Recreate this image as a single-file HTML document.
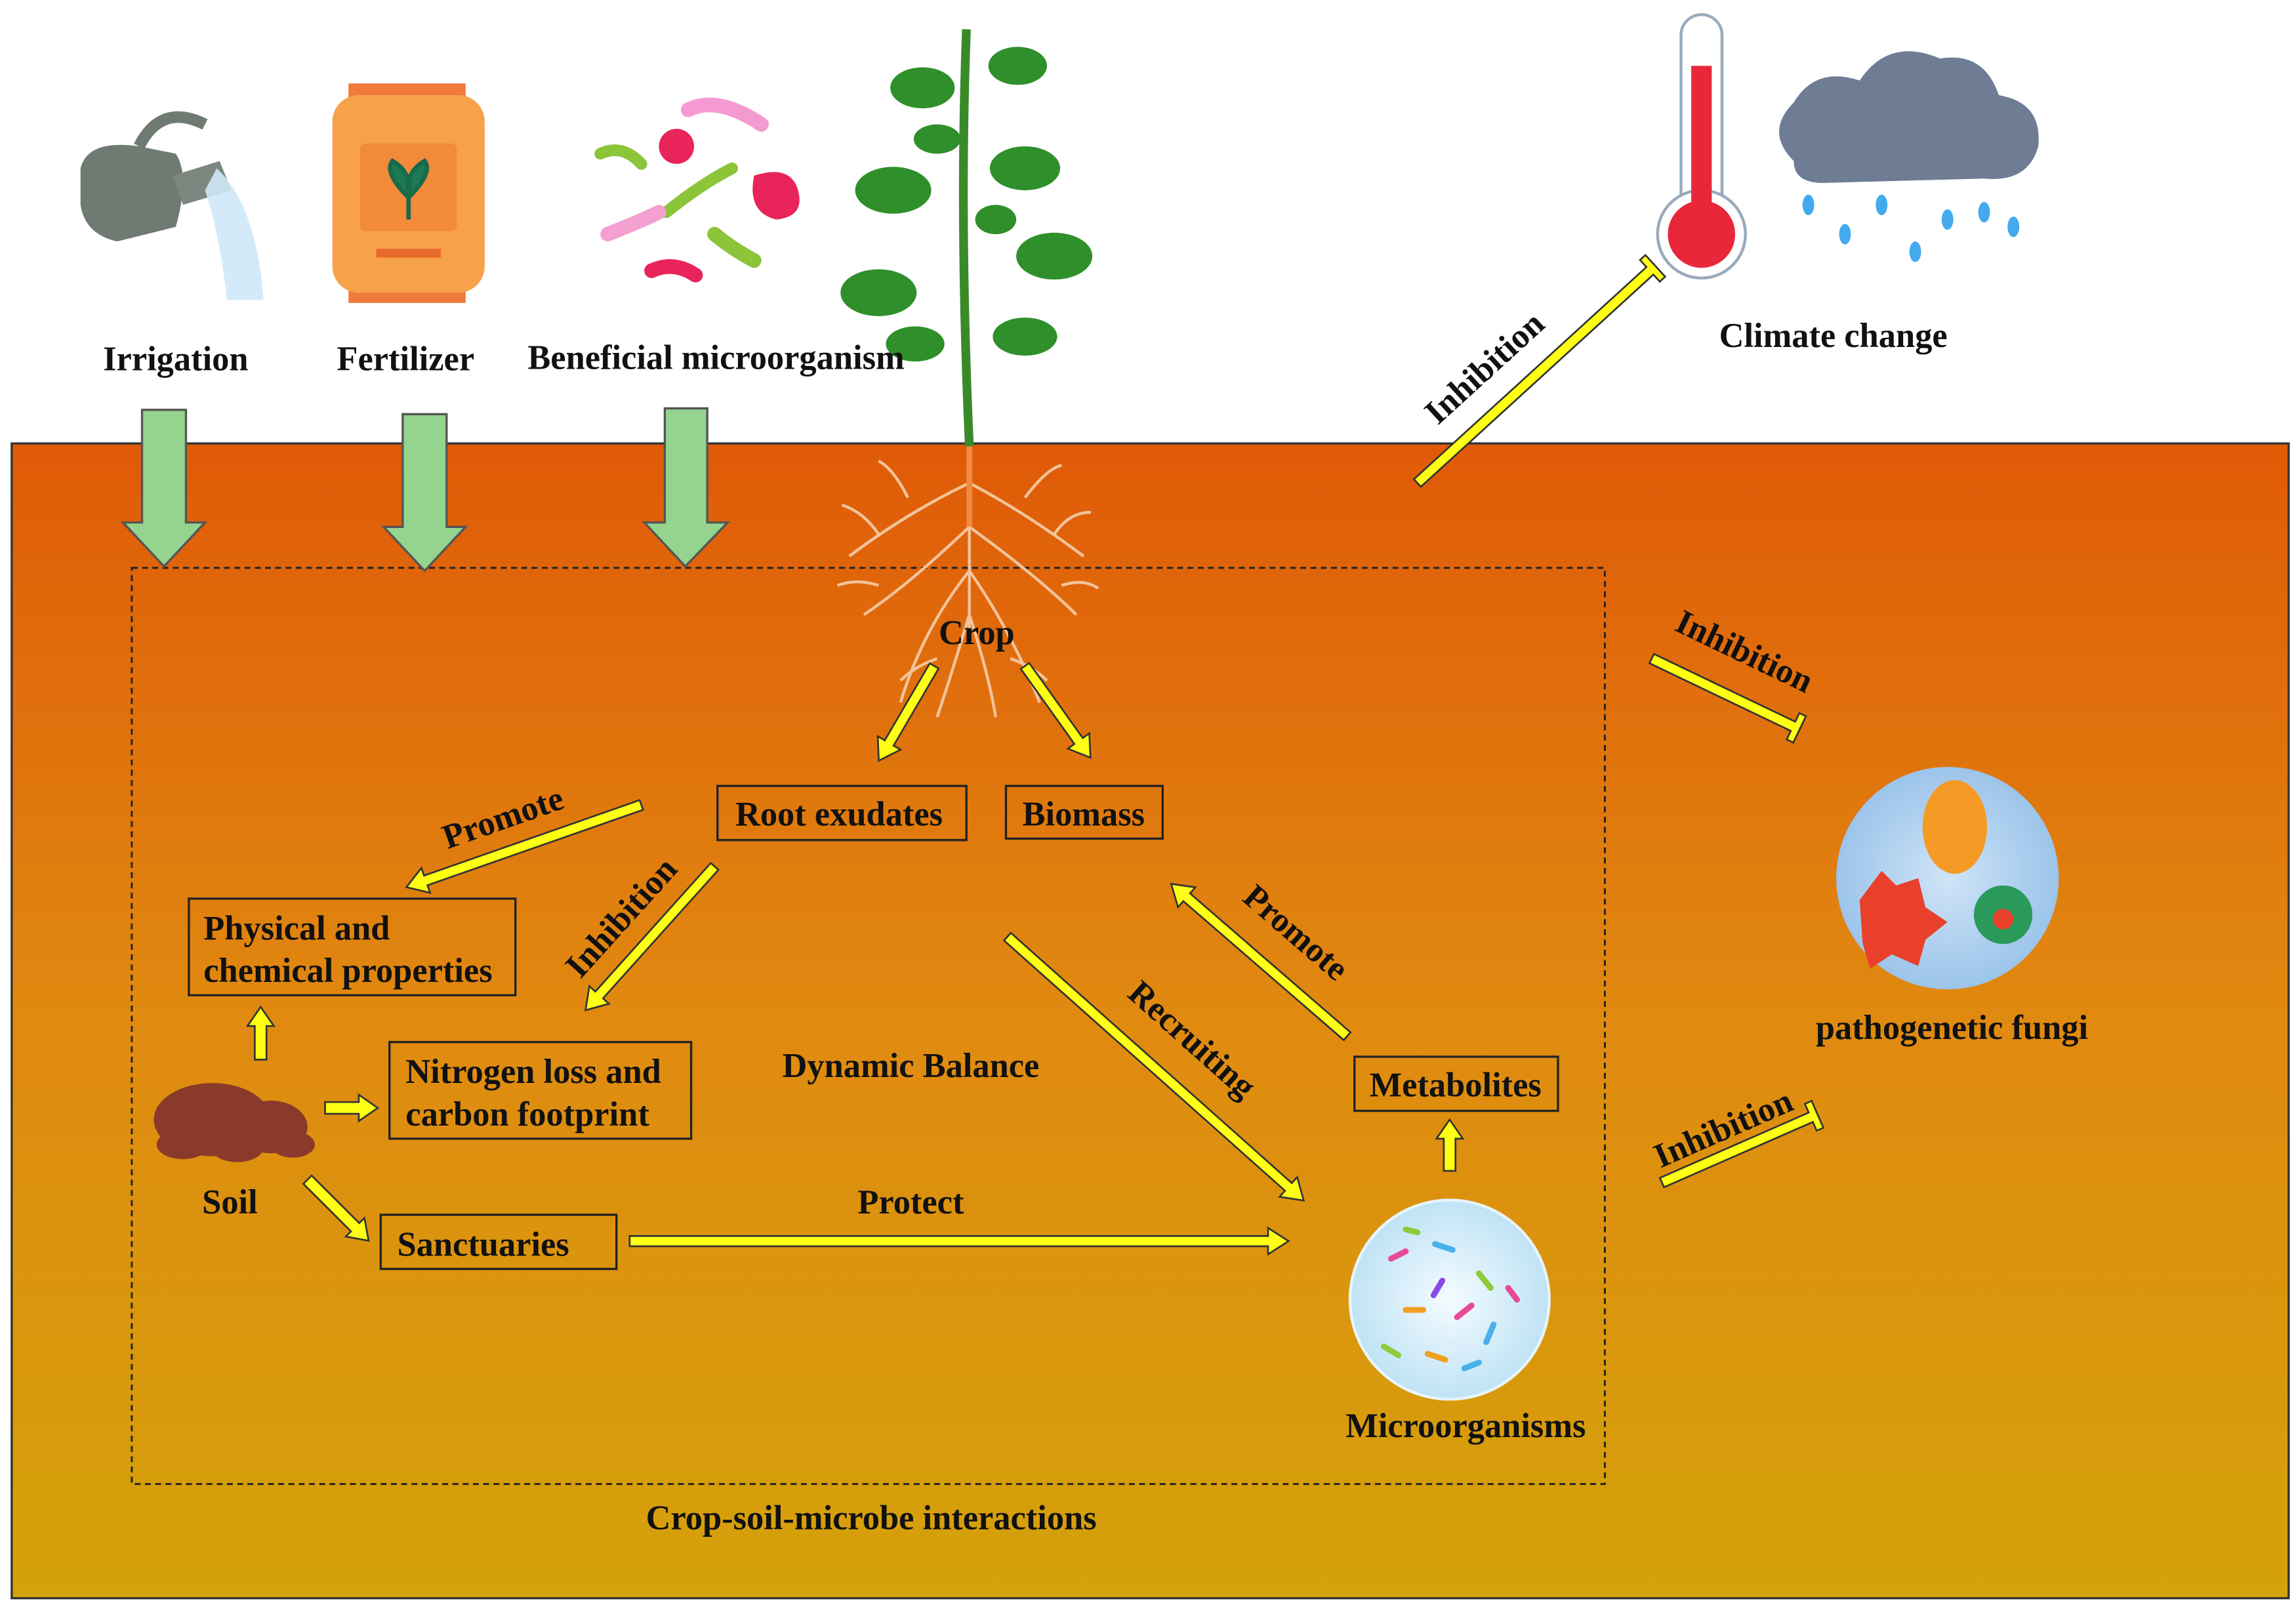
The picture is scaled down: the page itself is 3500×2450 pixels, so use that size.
<!DOCTYPE html>
<html><head><meta charset="utf-8"><style>
html,body{margin:0;padding:0;background:#fff;width:3500px;height:2450px;overflow:hidden}
svg{display:block}
text{font-family:"Liberation Serif",serif;font-weight:bold;fill:#111}
</style></head><body>
<svg width="3500" height="2450" viewBox="0 0 1568 1098" preserveAspectRatio="none" xmlns="http://www.w3.org/2000/svg">
<defs>
<linearGradient id="soil" x1="0" y1="0" x2="0" y2="1">
<stop offset="0" stop-color="#e05a08"/><stop offset="0.5" stop-color="#e08a10"/><stop offset="1" stop-color="#d4a20a"/>
</linearGradient>
<radialGradient id="bub" cx="0.5" cy="0.5" r="0.5"><stop offset="0" stop-color="#f4fbff"/><stop offset="1" stop-color="#bfe3f5"/></radialGradient>
<radialGradient id="bub2" cx="0.5" cy="0.5" r="0.5"><stop offset="0" stop-color="#cfe4f7"/><stop offset="1" stop-color="#9cc4ea"/></radialGradient>
</defs>
<rect width="1568" height="1098" fill="#fff"/>
<rect x="8" y="303" width="1555" height="789" fill="url(#soil)" stroke="#333" stroke-width="1.5"/>
<rect x="90" y="388" width="1006" height="626" fill="none" stroke="#222" stroke-width="1.3" stroke-dasharray="4,3"/>

<g fill="#94d48e" stroke="#555" stroke-width="1.5">
<polygon points="97,280 127,280 127,357 140,357 112,387 84,357 97,357"/>
<polygon points="275,283 305,283 305,360 318,360 290,390 262,360 275,360"/>
<polygon points="454,279 483,279 483,357 497,357 468,387 440,357 454,357"/>
</g>

<g>
<path d="M55,115 Q60,95 95,100 L120,105 Q130,120 120,155 L80,165 Q58,160 55,140 Z" fill="#6f7a72"/>
<path d="M95,100 Q110,70 140,85" fill="none" stroke="#6f7a72" stroke-width="8"/>
<path d="M118,120 L150,110 L158,130 L125,140 Z" fill="#7c877f"/>
<path d="M148,115 Q175,140 180,205 L155,205 Q150,160 140,130 Z" fill="#cfe8f7" opacity="0.9"/>
</g>
<g>
<rect x="238" y="57" width="80" height="10" fill="#f07a3a"/>
<rect x="238" y="197" width="80" height="10" fill="#f07a3a"/>
<rect x="227" y="65" width="104" height="135" rx="18" fill="#f7a24a"/>
<rect x="246" y="98" width="66" height="60" rx="4" fill="#f28a3a"/>
<path d="M279,150 L279,120 M279,135 Q262,118 268,110 Q282,118 279,135 M279,135 Q296,118 290,110 Q276,118 279,135" stroke="#176a4a" fill="#1d7a55" stroke-width="3"/>
<rect x="257" y="170" width="44" height="6" fill="#e86a2a"/>
</g>
<g>
<circle cx="480" cy="135" r="78" fill="#fff"/>
<path d="M470,75 Q490,65 520,85" stroke="#f49ad0" stroke-width="10" fill="none" stroke-linecap="round"/>
<circle cx="462" cy="100" r="12" fill="#e8245a"/>
<path d="M515,120 Q540,112 545,130 Q550,148 530,150 Q510,145 515,120Z" fill="#e8245a"/>
<path d="M455,145 Q480,125 500,115" stroke="#8cc43a" stroke-width="8" fill="none" stroke-linecap="round"/>
<path d="M415,160 Q440,150 450,145" stroke="#f4a0d0" stroke-width="10" fill="none" stroke-linecap="round"/>
<path d="M488,160 Q500,170 515,178" stroke="#8cc43a" stroke-width="10" fill="none" stroke-linecap="round"/>
<path d="M445,185 Q460,178 475,188" stroke="#e8245a" stroke-width="10" fill="none" stroke-linecap="round"/>
<path d="M410,105 Q425,98 438,112" stroke="#8cc43a" stroke-width="8" fill="none" stroke-linecap="round"/>
</g>
<g>
<path d="M660,20 Q655,150 662,305" stroke="#3a8a2a" stroke-width="6" fill="none"/>
<g fill="#2f8f2a">
<ellipse cx="630" cy="60" rx="22" ry="14"/><ellipse cx="695" cy="45" rx="20" ry="13"/>
<ellipse cx="610" cy="130" rx="26" ry="16"/><ellipse cx="700" cy="115" rx="24" ry="15"/>
<ellipse cx="600" cy="200" rx="26" ry="16"/><ellipse cx="720" cy="175" rx="26" ry="16"/>
<ellipse cx="625" cy="235" rx="20" ry="12"/><ellipse cx="700" cy="230" rx="22" ry="13"/>
<ellipse cx="640" cy="95" rx="16" ry="10"/><ellipse cx="680" cy="150" rx="14" ry="10"/>
</g>
</g>
<g stroke="#f3c39a" stroke-width="2" fill="none">
<path d="M662,305 L662,440 M662,330 Q620,350 580,380 M662,330 Q700,350 740,380 M662,360 Q620,400 590,420 M662,360 Q710,395 735,420 M662,390 Q630,430 615,480 M662,390 Q690,430 710,480 M662,420 Q650,460 640,490 M662,420 Q675,460 680,490 M600,365 Q590,350 575,345 M720,365 Q730,350 745,350 M620,340 Q610,320 600,315 M700,340 Q715,320 725,318 M600,400 Q585,395 572,400 M725,400 Q740,395 750,402 M640,450 Q625,455 615,465 M690,450 Q705,455 715,465"/>
</g>
<path d="M660,305 L664,305 L664,360 L660,360Z" fill="#f08a40"/>
<g>
<rect x="1148" y="10" width="28" height="150" rx="14" fill="#fff" stroke="#9ab" stroke-width="2"/>
<circle cx="1162" cy="160" r="30" fill="#fff" stroke="#9ab" stroke-width="2"/>
<rect x="1155" y="45" width="14" height="115" fill="#e8283a"/>
<circle cx="1162" cy="160" r="23" fill="#e8283a"/>
</g>
<g>
<path d="M1225,110 Q1205,90 1225,70 Q1240,45 1270,55 Q1290,25 1325,40 Q1355,35 1365,65 Q1395,70 1392,100 Q1385,125 1355,122 L1245,125 Q1225,125 1225,110Z" fill="#6e7d94"/>
<g fill="#44aaee"><ellipse cx="1235" cy="140" rx="4" ry="7"/><ellipse cx="1260" cy="160" rx="4" ry="7"/><ellipse cx="1285" cy="140" rx="4" ry="7"/><ellipse cx="1308" cy="172" rx="4" ry="7"/><ellipse cx="1330" cy="150" rx="4" ry="7"/><ellipse cx="1355" cy="145" rx="4" ry="7"/><ellipse cx="1375" cy="155" rx="4" ry="7"/></g>
</g>
<g>
<circle cx="1330" cy="600" r="76" fill="url(#bub2)"/>
<ellipse cx="1335" cy="565" rx="22" ry="32" fill="#f59a25"/>
<path d="M1270,615 l15,-20 l10,10 l15,-5 l5,20 l15,10 l-15,12 l-5,18 l-18,-8 l-15,10 l-5,-18 z" fill="#e8402a"/>
<circle cx="1368" cy="625" r="20" fill="#2a9a5a"/><circle cx="1368" cy="628" r="7" fill="#e8402a"/>
</g>
<g fill="#8a3a2a">
<ellipse cx="145" cy="765" rx="40" ry="25"/><ellipse cx="185" cy="770" rx="25" ry="18"/><ellipse cx="125" cy="782" rx="18" ry="10"/><ellipse cx="162" cy="784" rx="18" ry="10"/><ellipse cx="200" cy="782" rx="15" ry="9"/>
</g>
<g>
<circle cx="990" cy="888" r="68" fill="url(#bub)" stroke="#e8f4fa" stroke-width="2"/>
<g stroke-width="4" stroke-linecap="round">
<path d="M950,860 l10,-5" stroke="#e84a9a"/><path d="M980,850 l12,4" stroke="#4ab0e8"/><path d="M1010,870 l8,10" stroke="#8ccc3a"/>
<path d="M960,895 l12,0" stroke="#f0a020"/><path d="M995,900 l10,-8" stroke="#e84a9a"/><path d="M1020,905 l-5,12" stroke="#4ab0e8"/>
<path d="M945,920 l10,6" stroke="#8ccc3a"/><path d="M975,925 l12,4" stroke="#f0a020"/><path d="M1000,935 l10,-4" stroke="#4ab0e8"/>
<path d="M985,875 l-6,10" stroke="#8a4ae8"/><path d="M1030,880 l6,8" stroke="#e84a9a"/><path d="M960,840 l8,2" stroke="#8ccc3a"/>
</g>
</g>

<g fill="none" stroke="#222" stroke-width="1.5">
<rect x="490" y="537" width="170" height="37"/>
<rect x="687" y="537" width="107" height="36"/>
<rect x="129" y="614" width="223" height="66"/>
<rect x="266" y="712" width="206" height="66"/>
<rect x="260" y="830" width="161" height="37"/>
<rect x="925" y="722" width="139" height="37"/>
</g>

<g fill="#ffff14" stroke="#333" stroke-width="1.2">
<g transform="translate(638,455) rotate(120.3)"><polygon points="0,-3.5 61,-3.5 61,-9 75,0 61,9 61,3.5 0,3.5"/></g>
<g transform="translate(700,455) rotate(54.5)"><polygon points="0,-3.5 63,-3.5 63,-9 77,0 63,9 63,3.5 0,3.5"/></g>
<g transform="translate(438,550) rotate(160.7)"><polygon points="0,-3.5 156,-3.5 156,-9 170,0 156,9 156,3.5 0,3.5"/></g>
<g transform="translate(488,592) rotate(131.9)"><polygon points="0,-3.5 118,-3.5 118,-9 132,0 118,9 118,3.5 0,3.5"/></g>
<g transform="translate(688,640) rotate(41.7)"><polygon points="0,-3.5 257,-3.5 257,-9 271,0 257,9 257,3.5 0,3.5"/></g>
<g transform="translate(920,708) rotate(-139.1)"><polygon points="0,-3.5 145,-3.5 145,-9 159,0 145,9 145,3.5 0,3.5"/></g>
<g transform="translate(990,800) rotate(-90)"><polygon points="0,-4 22,-4 22,-9 35,0 22,9 22,4 0,4"/></g>
<g transform="translate(430,848) rotate(0)"><polygon points="0,-3.5 436,-3.5 436,-9 450,0 436,9 436,3.5 0,3.5"/></g>
<g transform="translate(178,724) rotate(-90)"><polygon points="0,-4 23,-4 23,-9 36,0 23,9 23,4 0,4"/></g>
<g transform="translate(222,757) rotate(0)"><polygon points="0,-4 23,-4 23,-9 36,0 23,9 23,4 0,4"/></g>
<g transform="translate(210,806) rotate(45)"><polygon points="0,-4 46,-4 46,-9 59,0 46,9 46,4 0,4"/></g>
<g transform="translate(968,330) rotate(-42.4)"><polygon points="0,-3.5 215,-3.5 215,-10 220,-10 220,10 215,10 215,3.5 0,3.5"/></g>
<g transform="translate(1128,450) rotate(25.6)"><polygon points="0,-3.5 107,-3.5 107,-10 112,-10 112,10 107,10 107,3.5 0,3.5"/></g>
<g transform="translate(1135,808) rotate(-23.7)"><polygon points="0,-3.5 111,-3.5 111,-10 116,-10 116,10 111,10 111,3.5 0,3.5"/></g>
</g>

<g font-size="23.5">
<text x="120" y="253" text-anchor="middle">Irrigation</text>
<text x="277" y="253" text-anchor="middle">Fertilizer</text>
<text x="489" y="252" text-anchor="middle">Beneficial microorganism</text>
<text x="1252" y="237" text-anchor="middle">Climate change</text>
<text x="667" y="440" text-anchor="middle">Crop</text>
<text x="573" y="564" text-anchor="middle">Root exudates</text>
<text x="740" y="564" text-anchor="middle">Biomass</text>
<text x="139" y="642">Physical and</text>
<text x="139" y="671">chemical properties</text>
<text x="277" y="740">Nitrogen loss and</text>
<text x="277" y="769">carbon footprint</text>
<text x="330" y="858" text-anchor="middle">Sanctuaries</text>
<text x="994" y="749" text-anchor="middle">Metabolites</text>
<text x="622" y="736" text-anchor="middle">Dynamic Balance</text>
<text x="622" y="829" text-anchor="middle">Protect</text>
<text x="157" y="829" text-anchor="middle">Soil</text>
<text x="1001" y="982" text-anchor="middle">Microorganisms</text>
<text x="1333" y="710" text-anchor="middle">pathogenetic fungi</text>
<text x="595" y="1045" text-anchor="middle">Crop-soil-microbe interactions</text>
<text transform="translate(346,566) rotate(-19.3)" text-anchor="middle">Promote</text>
<text transform="translate(430,632) rotate(-48)" text-anchor="middle">Inhibition</text>
<text transform="translate(809,716) rotate(41.7)" text-anchor="middle">Recruiting</text>
<text transform="translate(880,643) rotate(40.9)" text-anchor="middle">Promote</text>
<text transform="translate(1019,257) rotate(-42.4)" text-anchor="middle">Inhibition</text>
<text transform="translate(1188,452) rotate(25.6)" text-anchor="middle">Inhibition</text>
<text transform="translate(1180,778) rotate(-23.7)" text-anchor="middle">Inhibition</text>
</g>
</svg>
</body></html>
